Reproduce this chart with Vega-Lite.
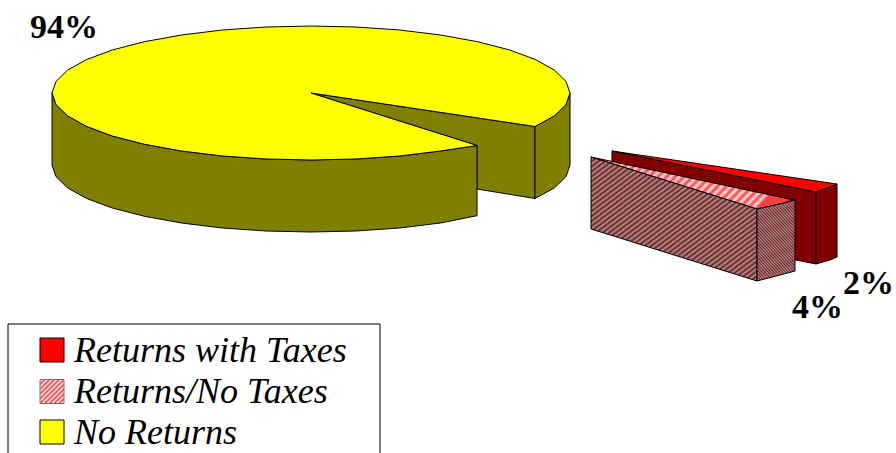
{"$schema":"https://vega.github.io/schema/vega-lite/v6.json","width":896,"height":453,"padding":0,"autosize":"none","background":"white","view":{"stroke":null},
"datasets":{"faces":[
{"f":"a1","s":"Returns with Taxes side","i":0,"x":612,"y":151},{"f":"a1","s":"Returns with Taxes side","i":1,"x":816,"y":192},{"f":"a1","s":"Returns with Taxes side","i":2,"x":816,"y":264},{"f":"a1","s":"Returns with Taxes side","i":3,"x":612,"y":223},{"f":"a1","s":"Returns with Taxes side","i":4,"x":612,"y":151},
{"f":"a2","s":"Returns with Taxes","i":0,"x":612,"y":151},{"f":"a2","s":"Returns with Taxes","i":1,"x":837,"y":184},{"f":"a2","s":"Returns with Taxes","i":2,"x":830,"y":187},{"f":"a2","s":"Returns with Taxes","i":3,"x":816,"y":192},{"f":"a2","s":"Returns with Taxes","i":4,"x":612,"y":151},
{"f":"a3","s":"Returns with Taxes side","i":0,"x":816,"y":192},{"f":"a3","s":"Returns with Taxes side","i":1,"x":830,"y":187},{"f":"a3","s":"Returns with Taxes side","i":2,"x":837,"y":184},{"f":"a3","s":"Returns with Taxes side","i":3,"x":837,"y":257},{"f":"a3","s":"Returns with Taxes side","i":4,"x":830,"y":260},{"f":"a3","s":"Returns with Taxes side","i":5,"x":816,"y":264},{"f":"a3","s":"Returns with Taxes side","i":6,"x":816,"y":192},
{"f":"c1","s":"No Returns side","i":0,"x":311,"y":93},{"f":"c1","s":"No Returns side","i":1,"x":535,"y":126.5},{"f":"c1","s":"No Returns side","i":2,"x":535,"y":198.5},{"f":"c1","s":"No Returns side","i":3,"x":477,"y":189},{"f":"c1","s":"No Returns side","i":4,"x":477,"y":145.5},{"f":"c1","s":"No Returns side","i":5,"x":311,"y":93},
{"f":"c2","s":"No Returns side","i":0,"x":535,"y":126.5},{"f":"c2","s":"No Returns side","i":1,"x":554.4,"y":115.9},{"f":"c2","s":"No Returns side","i":2,"x":566,"y":104.6},{"f":"c2","s":"No Returns side","i":3,"x":570,"y":93},{"f":"c2","s":"No Returns side","i":4,"x":570,"y":165},{"f":"c2","s":"No Returns side","i":5,"x":566,"y":176.6},{"f":"c2","s":"No Returns side","i":6,"x":554.4,"y":187.9},{"f":"c2","s":"No Returns side","i":7,"x":535,"y":198.5},{"f":"c2","s":"No Returns side","i":8,"x":535,"y":126.5},
{"f":"c3","s":"No Returns side","i":0,"x":52,"y":93},{"f":"c3","s":"No Returns side","i":1,"x":56,"y":104.6},{"f":"c3","s":"No Returns side","i":2,"x":67.6,"y":115.9},{"f":"c3","s":"No Returns side","i":3,"x":86.7,"y":126.5},{"f":"c3","s":"No Returns side","i":4,"x":112.6,"y":136.1},{"f":"c3","s":"No Returns side","i":5,"x":144.5,"y":144.3},{"f":"c3","s":"No Returns side","i":6,"x":181.5,"y":151},{"f":"c3","s":"No Returns side","i":7,"x":222.4,"y":156},{"f":"c3","s":"No Returns side","i":8,"x":266,"y":159},{"f":"c3","s":"No Returns side","i":9,"x":311,"y":160},{"f":"c3","s":"No Returns side","i":10,"x":356,"y":159},{"f":"c3","s":"No Returns side","i":11,"x":399.6,"y":156},{"f":"c3","s":"No Returns side","i":12,"x":440.5,"y":151},{"f":"c3","s":"No Returns side","i":13,"x":477,"y":145.5},{"f":"c3","s":"No Returns side","i":14,"x":477,"y":215.7},{"f":"c3","s":"No Returns side","i":15,"x":440.5,"y":223},{"f":"c3","s":"No Returns side","i":16,"x":399.6,"y":228},{"f":"c3","s":"No Returns side","i":17,"x":356,"y":231},{"f":"c3","s":"No Returns side","i":18,"x":311,"y":232},{"f":"c3","s":"No Returns side","i":19,"x":266,"y":231},{"f":"c3","s":"No Returns side","i":20,"x":222.4,"y":228},{"f":"c3","s":"No Returns side","i":21,"x":181.5,"y":223},{"f":"c3","s":"No Returns side","i":22,"x":144.5,"y":216.3},{"f":"c3","s":"No Returns side","i":23,"x":112.6,"y":208.1},{"f":"c3","s":"No Returns side","i":24,"x":86.7,"y":198.5},{"f":"c3","s":"No Returns side","i":25,"x":67.6,"y":187.9},{"f":"c3","s":"No Returns side","i":26,"x":56,"y":176.6},{"f":"c3","s":"No Returns side","i":27,"x":52,"y":165},{"f":"c3","s":"No Returns side","i":28,"x":52,"y":93},
{"f":"c4","s":"No Returns","i":0,"x":311,"y":93},{"f":"c4","s":"No Returns","i":1,"x":535,"y":126.5},{"f":"c4","s":"No Returns","i":2,"x":554.4,"y":115.9},{"f":"c4","s":"No Returns","i":3,"x":566,"y":104.6},{"f":"c4","s":"No Returns","i":4,"x":570,"y":93},{"f":"c4","s":"No Returns","i":5,"x":566,"y":81.4},{"f":"c4","s":"No Returns","i":6,"x":554.4,"y":70.1},{"f":"c4","s":"No Returns","i":7,"x":535.3,"y":59.5},{"f":"c4","s":"No Returns","i":8,"x":509.4,"y":49.9},{"f":"c4","s":"No Returns","i":9,"x":477.5,"y":41.7},{"f":"c4","s":"No Returns","i":10,"x":440.5,"y":35},{"f":"c4","s":"No Returns","i":11,"x":399.6,"y":30},{"f":"c4","s":"No Returns","i":12,"x":356,"y":27},{"f":"c4","s":"No Returns","i":13,"x":311,"y":26},{"f":"c4","s":"No Returns","i":14,"x":266,"y":27},{"f":"c4","s":"No Returns","i":15,"x":222.4,"y":30},{"f":"c4","s":"No Returns","i":16,"x":181.5,"y":35},{"f":"c4","s":"No Returns","i":17,"x":144.5,"y":41.7},{"f":"c4","s":"No Returns","i":18,"x":112.6,"y":49.9},{"f":"c4","s":"No Returns","i":19,"x":86.7,"y":59.5},{"f":"c4","s":"No Returns","i":20,"x":67.6,"y":70.1},{"f":"c4","s":"No Returns","i":21,"x":56,"y":81.4},{"f":"c4","s":"No Returns","i":22,"x":52,"y":93},{"f":"c4","s":"No Returns","i":23,"x":56,"y":104.6},{"f":"c4","s":"No Returns","i":24,"x":67.6,"y":115.9},{"f":"c4","s":"No Returns","i":25,"x":86.7,"y":126.5},{"f":"c4","s":"No Returns","i":26,"x":112.6,"y":136.1},{"f":"c4","s":"No Returns","i":27,"x":144.5,"y":144.3},{"f":"c4","s":"No Returns","i":28,"x":181.5,"y":151},{"f":"c4","s":"No Returns","i":29,"x":222.4,"y":156},{"f":"c4","s":"No Returns","i":30,"x":266,"y":159},{"f":"c4","s":"No Returns","i":31,"x":311,"y":160},{"f":"c4","s":"No Returns","i":32,"x":356,"y":159},{"f":"c4","s":"No Returns","i":33,"x":399.6,"y":156},{"f":"c4","s":"No Returns","i":34,"x":440.5,"y":151},{"f":"c4","s":"No Returns","i":35,"x":477,"y":145.5},{"f":"c4","s":"No Returns","i":36,"x":311,"y":93}
],
"hatchTop":[
{"f":"b1","i":0,"x":591,"y":157},{"f":"b1","i":1,"x":794,"y":200},{"f":"b1","i":2,"x":780,"y":204},{"f":"b1","i":3,"x":757,"y":209},{"f":"b1","i":4,"x":591,"y":157}],
"hatchSide":[
{"f":"b2","i":0,"x":591,"y":157},{"f":"b2","i":1,"x":757,"y":209},{"f":"b2","i":2,"x":757,"y":281},{"f":"b2","i":3,"x":591,"y":229},{"f":"b2","i":4,"x":591,"y":157},
{"f":"b3","i":0,"x":757,"y":209},{"f":"b3","i":1,"x":780,"y":204},{"f":"b3","i":2,"x":795,"y":200},{"f":"b3","i":3,"x":795,"y":271},{"f":"b3","i":4,"x":780,"y":275},{"f":"b3","i":5,"x":757,"y":281},{"f":"b3","i":6,"x":757,"y":209}],
"box":[{"x":8,"x2":380,"y":324,"y2":480}],
"series":[{"s":"Returns with Taxes","share":2,"x":52,"y":350},{"s":"Returns/No Taxes","share":4,"x":52,"y":391.5},{"s":"No Returns","share":94,"x":52,"y":432}],
"swatchSolid":[{"s":"Returns with Taxes","x":52,"y":350},{"s":"No Returns","x":52,"y":432}],
"swatchHatch":[{"s":"Returns/No Taxes","x":52,"y":391.5}],
"labels":[{"t":"94%","x":30,"y":38},{"t":"4%","x":792,"y":318},{"t":"2%","x":843,"y":294}]},
"layer":[
{"data":{"name":"box"},"mark":{"type":"rect","filled":false,"stroke":"black","strokeWidth":1},
"encoding":{"x":{"field":"x","type":"quantitative","scale":{"domain":[0,896],"nice":false,"zero":false},"axis":null},"x2":{"field":"x2"},"y":{"field":"y","type":"quantitative","scale":{"domain":[453,0],"nice":false,"zero":false},"axis":null},"y2":{"field":"y2"}}},
{"data":{"name":"series"},"mark":{"type":"point","opacity":0},
"encoding":{"x":{"field":"x","type":"quantitative"},"y":{"field":"y","type":"quantitative"},
"shape":{"field":"s","type":"nominal","scale":{"domain":["Returns with Taxes","Returns/No Taxes","No Returns"],"range":["square","square","square"]},
"legend":{"title":null,"orient":"none","legendX":34,"legendY":333,"padding":0,"symbolSize":576,"symbolOpacity":0,"symbolStrokeColor":"transparent","symbolFillColor":"transparent","labelFont":"Liberation Serif","labelFontStyle":"italic","labelFontSize":36,"labelColor":"black","labelOffset":4,"labelLimit":400,"rowPadding":5}}}},
{"data":{"name":"swatchSolid"},"mark":{"type":"point","filled":true,"shape":"square","size":576,"opacity":1,"stroke":"black","strokeWidth":1},
"encoding":{"x":{"field":"x","type":"quantitative"},"y":{"field":"y","type":"quantitative"},"color":{"field":"s","type":"nominal","legend":null}}},
{"data":{"name":"swatchHatch"},"mark":{"type":"point","filled":true,"shape":"square","size":576,"opacity":1,"stroke":"#707070","strokeWidth":1,"fill":{"gradient":"linear","x1":0,"y1":0,"x2":1,"y2":1,"stops":[{"offset":0,"color":"#ff3030"},{"offset":0.05,"color":"#ffffff"},{"offset":0.1,"color":"#ff3030"},{"offset":0.15,"color":"#ffffff"},{"offset":0.2,"color":"#ff3030"},{"offset":0.25,"color":"#ffffff"},{"offset":0.3,"color":"#ff3030"},{"offset":0.35,"color":"#ffffff"},{"offset":0.4,"color":"#ff3030"},{"offset":0.45,"color":"#ffffff"},{"offset":0.5,"color":"#ff3030"},{"offset":0.55,"color":"#ffffff"},{"offset":0.6,"color":"#ff3030"},{"offset":0.65,"color":"#ffffff"},{"offset":0.7,"color":"#ff3030"},{"offset":0.75,"color":"#ffffff"},{"offset":0.8,"color":"#ff3030"},{"offset":0.85,"color":"#ffffff"},{"offset":0.9,"color":"#ff3030"},{"offset":0.95,"color":"#ffffff"},{"offset":1,"color":"#ff3030"}]}},
"encoding":{"x":{"field":"x","type":"quantitative"},"y":{"field":"y","type":"quantitative"}}},
{"data":{"name":"faces"},"mark":{"type":"line","filled":true,"stroke":"black","strokeWidth":1},
"encoding":{
"x":{"field":"x","type":"quantitative"},
"y":{"field":"y","type":"quantitative"},
"order":{"field":"i"},"detail":{"field":"f"},
"color":{"field":"s","type":"nominal","legend":null,
"scale":{"domain":["Returns with Taxes","No Returns","Returns with Taxes side","No Returns side"],
"range":["#ff0000","#ffff00","#800000","#808000"]}}
}},
{"data":{"name":"hatchTop"},"mark":{"type":"line","filled":true,"stroke":"black","strokeWidth":1,"fill":{"gradient":"linear","x1":0,"y1":0,"x2":1,"y2":0.25,"stops":[{"offset":0,"color":"#ff4040"},{"offset":0.02,"color":"#ffe4e4"},{"offset":0.04,"color":"#ff4040"},{"offset":0.06,"color":"#ffe4e4"},{"offset":0.08,"color":"#ff4040"},{"offset":0.1,"color":"#ffe4e4"},{"offset":0.12,"color":"#ff4040"},{"offset":0.14,"color":"#ffe4e4"},{"offset":0.16,"color":"#ff4040"},{"offset":0.18,"color":"#ffe4e4"},{"offset":0.2,"color":"#ff4040"},{"offset":0.22,"color":"#ffe4e4"},{"offset":0.24,"color":"#ff4040"},{"offset":0.26,"color":"#ffe4e4"},{"offset":0.28,"color":"#ff4040"},{"offset":0.3,"color":"#ffe4e4"},{"offset":0.32,"color":"#ff4040"},{"offset":0.34,"color":"#ffe4e4"},{"offset":0.36,"color":"#ff4040"},{"offset":0.38,"color":"#ffe4e4"},{"offset":0.4,"color":"#ff4040"},{"offset":0.42,"color":"#ffe4e4"},{"offset":0.44,"color":"#ff4040"},{"offset":0.46,"color":"#ffe4e4"},{"offset":0.48,"color":"#ff4040"},{"offset":0.5,"color":"#ffe4e4"},{"offset":0.52,"color":"#ff4040"},{"offset":0.54,"color":"#ffe4e4"},{"offset":0.56,"color":"#ff4040"},{"offset":0.58,"color":"#ffe4e4"},{"offset":0.6,"color":"#ff4040"},{"offset":0.62,"color":"#ffe4e4"},{"offset":0.64,"color":"#ff4040"},{"offset":0.66,"color":"#ffe4e4"},{"offset":0.68,"color":"#ff4040"},{"offset":0.7,"color":"#ffe4e4"},{"offset":0.72,"color":"#ff4040"},{"offset":0.74,"color":"#ffe4e4"},{"offset":0.76,"color":"#ff4040"},{"offset":0.78,"color":"#ffe4e4"},{"offset":0.8,"color":"#ff4040"},{"offset":0.82,"color":"#ffe4e4"},{"offset":0.84,"color":"#ff4040"},{"offset":0.86,"color":"#ffe4e4"},{"offset":0.88,"color":"#ff4040"},{"offset":0.9,"color":"#ffe4e4"},{"offset":0.92,"color":"#ff4040"},{"offset":0.94,"color":"#ffe4e4"},{"offset":0.96,"color":"#ff4040"},{"offset":0.98,"color":"#ffe4e4"},{"offset":1,"color":"#ff4040"}]}},
"encoding":{"x":{"field":"x","type":"quantitative"},"y":{"field":"y","type":"quantitative"},"order":{"field":"i"},"detail":{"field":"f"}}},
{"data":{"name":"hatchSide"},"mark":{"type":"line","filled":true,"stroke":"black","strokeWidth":1,"fill":{"gradient":"linear","x1":0,"y1":0,"x2":1,"y2":1,"stops":[{"offset":0,"color":"#781818"},{"offset":0.01,"color":"#a89898"},{"offset":0.02,"color":"#781818"},{"offset":0.03,"color":"#a89898"},{"offset":0.04,"color":"#781818"},{"offset":0.05,"color":"#a89898"},{"offset":0.06,"color":"#781818"},{"offset":0.07,"color":"#a89898"},{"offset":0.08,"color":"#781818"},{"offset":0.09,"color":"#a89898"},{"offset":0.1,"color":"#781818"},{"offset":0.11,"color":"#a89898"},{"offset":0.12,"color":"#781818"},{"offset":0.13,"color":"#a89898"},{"offset":0.14,"color":"#781818"},{"offset":0.15,"color":"#a89898"},{"offset":0.16,"color":"#781818"},{"offset":0.17,"color":"#a89898"},{"offset":0.18,"color":"#781818"},{"offset":0.19,"color":"#a89898"},{"offset":0.2,"color":"#781818"},{"offset":0.21,"color":"#a89898"},{"offset":0.22,"color":"#781818"},{"offset":0.23,"color":"#a89898"},{"offset":0.24,"color":"#781818"},{"offset":0.25,"color":"#a89898"},{"offset":0.26,"color":"#781818"},{"offset":0.27,"color":"#a89898"},{"offset":0.28,"color":"#781818"},{"offset":0.29,"color":"#a89898"},{"offset":0.3,"color":"#781818"},{"offset":0.31,"color":"#a89898"},{"offset":0.32,"color":"#781818"},{"offset":0.33,"color":"#a89898"},{"offset":0.34,"color":"#781818"},{"offset":0.35,"color":"#a89898"},{"offset":0.36,"color":"#781818"},{"offset":0.37,"color":"#a89898"},{"offset":0.38,"color":"#781818"},{"offset":0.39,"color":"#a89898"},{"offset":0.4,"color":"#781818"},{"offset":0.41,"color":"#a89898"},{"offset":0.42,"color":"#781818"},{"offset":0.43,"color":"#a89898"},{"offset":0.44,"color":"#781818"},{"offset":0.45,"color":"#a89898"},{"offset":0.46,"color":"#781818"},{"offset":0.47,"color":"#a89898"},{"offset":0.48,"color":"#781818"},{"offset":0.49,"color":"#a89898"},{"offset":0.5,"color":"#781818"},{"offset":0.51,"color":"#a89898"},{"offset":0.52,"color":"#781818"},{"offset":0.53,"color":"#a89898"},{"offset":0.54,"color":"#781818"},{"offset":0.55,"color":"#a89898"},{"offset":0.56,"color":"#781818"},{"offset":0.57,"color":"#a89898"},{"offset":0.58,"color":"#781818"},{"offset":0.59,"color":"#a89898"},{"offset":0.6,"color":"#781818"},{"offset":0.61,"color":"#a89898"},{"offset":0.62,"color":"#781818"},{"offset":0.63,"color":"#a89898"},{"offset":0.64,"color":"#781818"},{"offset":0.65,"color":"#a89898"},{"offset":0.66,"color":"#781818"},{"offset":0.67,"color":"#a89898"},{"offset":0.68,"color":"#781818"},{"offset":0.69,"color":"#a89898"},{"offset":0.7,"color":"#781818"},{"offset":0.71,"color":"#a89898"},{"offset":0.72,"color":"#781818"},{"offset":0.73,"color":"#a89898"},{"offset":0.74,"color":"#781818"},{"offset":0.75,"color":"#a89898"},{"offset":0.76,"color":"#781818"},{"offset":0.77,"color":"#a89898"},{"offset":0.78,"color":"#781818"},{"offset":0.79,"color":"#a89898"},{"offset":0.8,"color":"#781818"},{"offset":0.81,"color":"#a89898"},{"offset":0.82,"color":"#781818"},{"offset":0.83,"color":"#a89898"},{"offset":0.84,"color":"#781818"},{"offset":0.85,"color":"#a89898"},{"offset":0.86,"color":"#781818"},{"offset":0.87,"color":"#a89898"},{"offset":0.88,"color":"#781818"},{"offset":0.89,"color":"#a89898"},{"offset":0.9,"color":"#781818"},{"offset":0.91,"color":"#a89898"},{"offset":0.92,"color":"#781818"},{"offset":0.93,"color":"#a89898"},{"offset":0.94,"color":"#781818"},{"offset":0.95,"color":"#a89898"},{"offset":0.96,"color":"#781818"},{"offset":0.97,"color":"#a89898"},{"offset":0.98,"color":"#781818"},{"offset":0.99,"color":"#a89898"},{"offset":1,"color":"#781818"}]}},
"encoding":{"x":{"field":"x","type":"quantitative"},"y":{"field":"y","type":"quantitative"},"order":{"field":"i"},"detail":{"field":"f"}}},
{"data":{"name":"labels"},"mark":{"type":"text","font":"Liberation Serif","fontWeight":"bold","fontSize":34,"align":"left","baseline":"alphabetic","color":"black"},
"encoding":{"x":{"field":"x","type":"quantitative"},"y":{"field":"y","type":"quantitative"},"text":{"field":"t"}}}
]}
